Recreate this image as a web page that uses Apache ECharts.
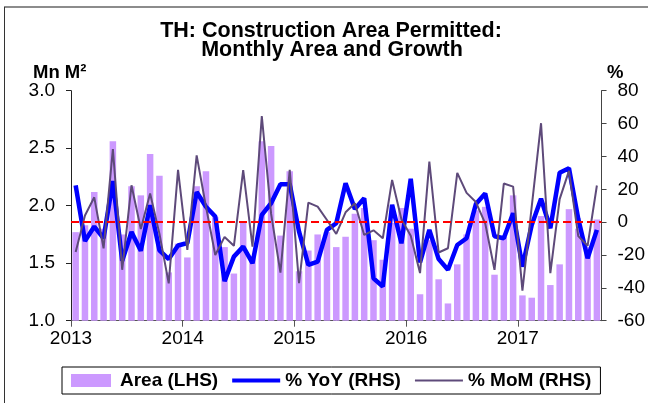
<!DOCTYPE html>
<html>
<head>
<meta charset="utf-8">
<script src="https://cdn.jsdelivr.net/npm/echarts@6/dist/echarts.min.js"></script>
<style>
html,body{margin:0;padding:0;background:#fff;}
#c{width:648px;height:403px;}
</style>
</head>
<body>
<div id="c"></div>
<script>
// Monthly data, Jan 2013 .. Sep 2017
const years = ['2013','2014','2015','2016','2017'];
const area = [1.77,1.83,2.12,1.80,2.56,1.75,2.17,2.09,2.45,2.26,1.42,1.67,
  1.55,2.17,2.30,1.90,1.64,1.41,1.85,1.55,2.56,2.52,1.74,2.30,
  1.43,1.61,1.75,1.77,1.64,1.73,1.93,1.98,1.70,1.53,1.85,1.98,
  1.80,1.23,1.70,1.36,1.15,1.49,1.75,1.96,1.99,1.40,1.73,2.09,
  1.22,1.20,1.91,1.31,1.49,1.97,1.80,1.64,1.88];
const yoy = [22.4,-11.5,-2.7,-9.8,25.0,-23.5,-6.0,-17.4,10.3,-17.2,-22.5,-14.2,
  -12.7,18.3,9.4,3.4,-36.0,-21.0,-14.9,-25.0,4.4,11.5,23.1,23.1,
  -5.8,-26.0,-24.0,-4.7,-0.7,23.7,8.0,14.5,-34.2,-39.2,10.5,-12.9,
  26.4,-24.5,-4.7,-22.5,-29.0,-13.9,-9.8,11.0,17.4,-8.6,-9.8,5.4,
  -27.1,-1.7,14.2,-3.7,30.1,32.8,2.0,-22.0,-4.7];
const mom = [-18.2,4.0,15.1,-16.0,44.4,-29.0,22.4,-4.2,17.4,-7.0,-37.3,31.8,
  -16.9,40.6,9.4,-20.0,-9.0,-14.4,31.6,-14.9,64.6,5.0,-30.7,31.8,
  -37.1,11.9,9.4,1.3,-7.2,6.0,11.5,-7.8,-5.0,-9.8,25.7,1.8,
  -8.3,-31.0,36.8,-18.5,-15.9,30.0,17.8,12.2,-0.7,-29.0,23.5,21.6,
  -41.7,9.4,60.2,-31.1,14.0,31.2,-8.5,-14.4,22.3];
const seriesNames = ['Area (LHS)','% YoY (RHS)','% MoM (RHS)'];

const FONT = '"Liberation Sans", Arial, sans-serif';
const toXY = arr => arr.map((v, i) => [i + 0.5, v]);

const chart = echarts.init(document.getElementById('c'), null, {renderer: 'canvas'});
chart.setOption({
  animation: false,
  backgroundColor: '#fff',
  textStyle: {fontFamily: FONT},
  graphic: [
    {type: 'line', shape: {x1: 4, y1: 7, x2: 660, y2: 7}, style: {stroke: '#8c8c8c', lineWidth: 2}},
    {type: 'line', shape: {x1: 4.5, y1: 7, x2: 4.5, y2: 410}, style: {stroke: '#333', lineWidth: 1}},
    {type: 'text', style: {x: 331, y: 31.2, text: 'TH: Construction Area Permitted:', textAlign: 'center', textVerticalAlign: 'middle', font: 'bold 21.5px ' + FONT, fill: '#000'}},
    {type: 'text', style: {x: 332, y: 49.6, text: 'Monthly Area and Growth', textAlign: 'center', textVerticalAlign: 'middle', font: 'bold 21.5px ' + FONT, fill: '#000'}},
    {type: 'text', style: {x: 33, y: 72.6, text: 'Mn M\u00B2', textAlign: 'left', textVerticalAlign: 'middle', font: 'bold 18.5px ' + FONT, fill: '#000'}},
    {type: 'text', style: {x: 607, y: 72.6, text: '%', textAlign: 'left', textVerticalAlign: 'middle', font: 'bold 18.5px ' + FONT, fill: '#000'}}
  ],
  grid: {left: 71, right: 42, top: 90.7, bottom: 82.3, containLabel: false},
  legend: {
    left: 62, top: 367,
    padding: [4, 9],
    itemGap: 14,
    itemWidth: 48, itemHeight: 13,
    borderColor: '#000', borderWidth: 1,
    backgroundColor: '#fff',
    textStyle: {fontFamily: FONT, fontSize: 19, fontWeight: 'bold', color: '#000'},
    selectedMode: false,
    data: [
      {name: seriesNames[0], icon: 'path://M0,0h40v13h-40z'},
      {name: seriesNames[1], icon: 'path://M0,0h48v4h-48z'},
      {name: seriesNames[2], icon: 'path://M0,0h48v2h-48z'}
    ]
  },
  xAxis: {
    type: 'value', min: 0, max: area.length, interval: 12,
    axisLine: {show: true, onZero: false, lineStyle: {color: '#555', width: 1}},
    axisTick: {show: true, inside: false, length: 6, lineStyle: {color: '#555'}},
    axisLabel: {
      show: true, margin: 9, color: '#000', fontSize: 19, fontFamily: FONT,
      showMaxLabel: false,
      formatter: v => (v % 12 === 0 && years[v / 12]) ? years[v / 12] : ''
    },
    splitLine: {show: false}
  },
  yAxis: [
    {
      type: 'value', min: 1, max: 3, interval: 0.5, position: 'left',
      axisLine: {show: true, lineStyle: {color: '#222', width: 1}},
      axisTick: {show: true, inside: false, length: 5, lineStyle: {color: '#222'}},
      axisLabel: {margin: 16, color: '#000', fontSize: 19, fontFamily: FONT, formatter: v => v.toFixed(1)},
      splitLine: {show: false}
    },
    {
      type: 'value', min: -60, max: 80, interval: 20, position: 'right',
      axisLine: {show: true, lineStyle: {color: '#444', width: 1}},
      axisTick: {show: true, inside: false, length: 5, lineStyle: {color: '#444'}},
      axisLabel: {margin: 16, color: '#000', fontSize: 19, fontFamily: FONT},
      splitLine: {show: false}
    }
  ],
  series: [
    {
      name: seriesNames[0], type: 'bar', yAxisIndex: 0,
      barWidth: 6.5,
      itemStyle: {color: '#cc99ff'},
      data: toXY(area), z: 1
    },
    {
      name: 'zero', type: 'line', yAxisIndex: 1, data: [], z: 2,
      markLine: {
        silent: true, symbol: ['none', 'none'], label: {show: false},
        lineStyle: {color: '#ff0000', type: [8, 4], width: 2},
        data: [{yAxis: 0}]
      }
    },
    {
      name: seriesNames[1], type: 'line', yAxisIndex: 1,
      symbol: 'none', lineStyle: {color: '#0000ff', width: 4.5},
      itemStyle: {color: '#0000ff'},
      data: toXY(yoy), z: 3
    },
    {
      name: seriesNames[2], type: 'line', yAxisIndex: 1,
      symbol: 'none', lineStyle: {color: '#5e4a7a', width: 2},
      itemStyle: {color: '#5e4a7a'},
      data: toXY(mom), z: 4
    }
  ]
});
</script>
</body>
</html>
